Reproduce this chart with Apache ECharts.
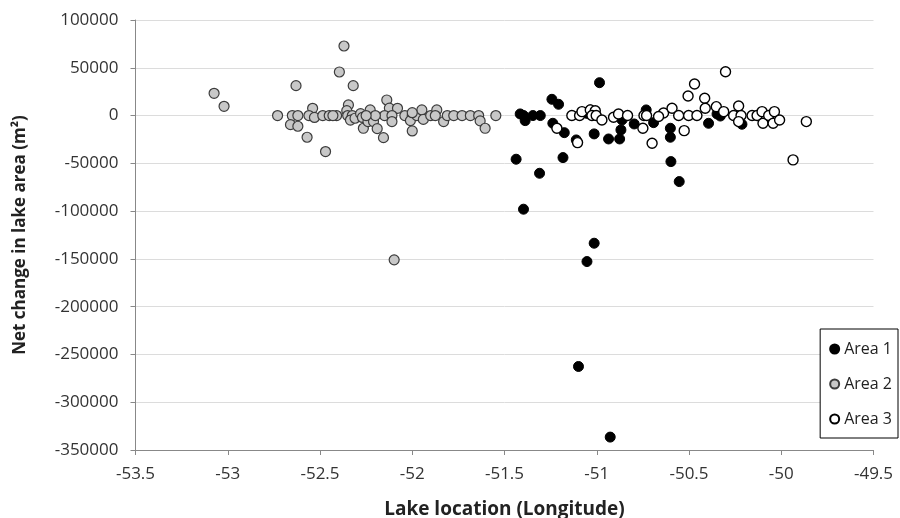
<!DOCTYPE html>
<html>
<head>
<meta charset="utf-8">
<script src="https://cdn.jsdelivr.net/npm/echarts@6/dist/echarts.min.js"></script>
<style>html,body{margin:0;padding:0;background:#fff}#c{width:900px;height:518px}</style>
</head>
<body>
<div id="c"></div>
<script>
const xTicks = [-53.5, -49.5, 0.5];
const yTicks = [-350000, 100000, 50000];

const area1 = [
  [-51.437,-45700],[-51.415,1700],[-51.397,0],[-51.388,-5300],[-51.346,0],[-51.306,0],
  [-51.31,-60400],[-51.397,-98000],[-51.243,17000],[-51.207,11800],[-51.238,-8100],
  [-51.176,-17900],[-51.183,-44000],[-51.111,-25500],[-51.014,-19200],[-50.985,34400],
  [-51.035,5900],[-51.053,2300],[-50.936,-24500],[-50.876,-24500],[-50.869,-15000],
  [-50.863,-4600],[-50.797,-8800],[-50.732,5900],[-50.692,-7400],[-50.601,-13300],
  [-50.601,-22700],[-50.598,-48200],[-50.553,-69100],[-50.394,-8100],[-50.348,1700],
  [-50.33,-500],[-50.213,-9100],[-51.014,-133600],[-51.053,-152800],[-51.099,-262600],
  [-50.927,-336500]
];
const area2 = [
  [-53.074,23300],[-53.02,9700],[-52.73,0],[-52.63,31300],[-52.65,0],[-52.62,0],
  [-52.66,-9500],[-52.62,-11200],[-52.57,-22700],[-52.54,7600],[-52.56,0],[-52.53,-2000],
  [-52.47,-37700],[-52.485,0],[-52.45,0],[-52.41,0],[-52.395,45600],[-52.37,72800],
  [-52.32,31300],[-52.346,11100],[-52.355,5200],[-52.35,0],[-52.325,0],[-52.335,-4700],
  [-52.31,-2800],[-52.28,2000],[-52.27,-2000],[-52.265,-13300],[-52.228,5900],[-52.24,-6300],
  [-52.21,-6300],[-52.19,-13700],[-52.156,-23100],[-52.138,16300],[-52.124,7800],
  [-52.08,7600],[-52.15,0],[-52.11,0],[-52.11,-6300],[-52.04,0],[-52.0,0],[-52.01,-5300],
  [-52.0,-16100],[-51.975,0],[-51.948,5900],[-51.94,-4000],[-51.9,0],[-51.867,5900],
  [-51.875,0],[-51.83,-6300],[-51.81,0],[-51.775,0],[-51.73,0],[-51.685,0],[-51.64,0],
  [-51.632,-5600],[-51.605,-13300],[-51.547,0],[-52.098,-151000],[-52.2,0],[-52.25,0],
  [-52.43,0],[-52.0,3000]
];
const area3 = [
  [-51.135,0],[-51.093,0],[-51.08,4100],[-51.216,-13300],[-51.104,-28300],
  [-51.035,5900],[-51.008,5100],[-51.026,0],[-51.003,0],[-50.972,-4600],
  [-50.909,-1700],[-50.882,1700],[-50.833,0],[-50.75,-13300],[-50.744,0],[-50.73,0],
  [-50.7,-29000],[-50.638,2700],[-50.592,7600],[-50.665,-1000],[-50.556,0],[-50.502,0],
  [-50.457,0],[-50.526,-15800],[-50.505,20500],[-50.47,33000],[-50.415,18100],
  [-50.412,7600],[-50.352,9300],[-50.312,4100],[-50.302,45900],[-50.258,0],[-50.231,10000],
  [-50.218,0],[-50.231,-6300],[-50.158,0],[-50.131,0],[-50.104,4100],[-50.099,-8100],
  [-50.068,0],[-50.044,-8100],[-50.037,4100],[-50.009,-4600],[-49.864,-6300],[-49.936,-46400]
];

const labelFont = {fontFamily:'"Open Sans", sans-serif', fontSize:17, color:'#333'};
const chart = echarts.init(document.getElementById('c'), null, {renderer:'canvas'});
chart.setOption({
  animation:false,
  backgroundColor:'#fff',
  grid:{left:135.5, right:26.5, top:20, bottom:68, containLabel:false, outerBoundsMode:'none'},
  xAxis:{
    type:'value', min:xTicks[0], max:xTicks[1], interval:xTicks[2],
    name:'Lake location (Longitude)', nameLocation:'middle', nameGap:50,
    nameTextStyle:{fontFamily:'"Open Sans", sans-serif', fontSize:19, fontWeight:'bold', color:'#222'},
    axisLine:{onZero:false, lineStyle:{color:'#888', width:1}},
    axisTick:{show:true, inside:false, length:5, lineStyle:{color:'#888'}},
    axisLabel:Object.assign({margin:16, formatter:v=>String(v)}, labelFont),
    splitLine:{show:false}
  },
  yAxis:{
    type:'value', min:yTicks[0], max:yTicks[1], interval:yTicks[2],
    name:'Net change in lake area (m²)', nameLocation:'middle', nameGap:107,
    nameTextStyle:{fontFamily:'"Open Sans", sans-serif', fontSize:17, fontWeight:'bold', color:'#222'},
    axisLine:{show:true, onZero:false, lineStyle:{color:'#888', width:1}},
    axisTick:{show:true, inside:false, length:5, lineStyle:{color:'#888'}},
    axisLabel:Object.assign({margin:17, formatter:v=>String(v)}, labelFont),
    splitLine:{show:true, lineStyle:{color:'#dcdcdc', width:1}}
  },
  legend:{
    orient:'vertical', right:2, top:329,
    padding:[10,6,9,9], itemGap:15,
    backgroundColor:'#fff', borderColor:'#000', borderWidth:1, borderRadius:0,
    itemWidth:9, itemHeight:9, icon:'circle',
    textStyle:{fontFamily:'"Open Sans", sans-serif', fontSize:16, color:'#222', lineHeight:20},
    data:['Area 1','Area 2','Area 3']
  },
  series:[
    {name:'Area 1', type:'scatter', data:area1, symbolSize:10,
     itemStyle:{color:'#000', borderColor:'#000', borderWidth:1, opacity:1}},
    {name:'Area 2', type:'scatter', data:area2, symbolSize:10,
     itemStyle:{color:'#c8c8c8', borderColor:'#3c3c3c', borderWidth:1.2, opacity:1}},
    {name:'Area 3', type:'scatter', data:area3, symbolSize:10,
     itemStyle:{color:'#fff', borderColor:'#000', borderWidth:1.4, opacity:1}}
  ]
});
</script>
</body>
</html>
